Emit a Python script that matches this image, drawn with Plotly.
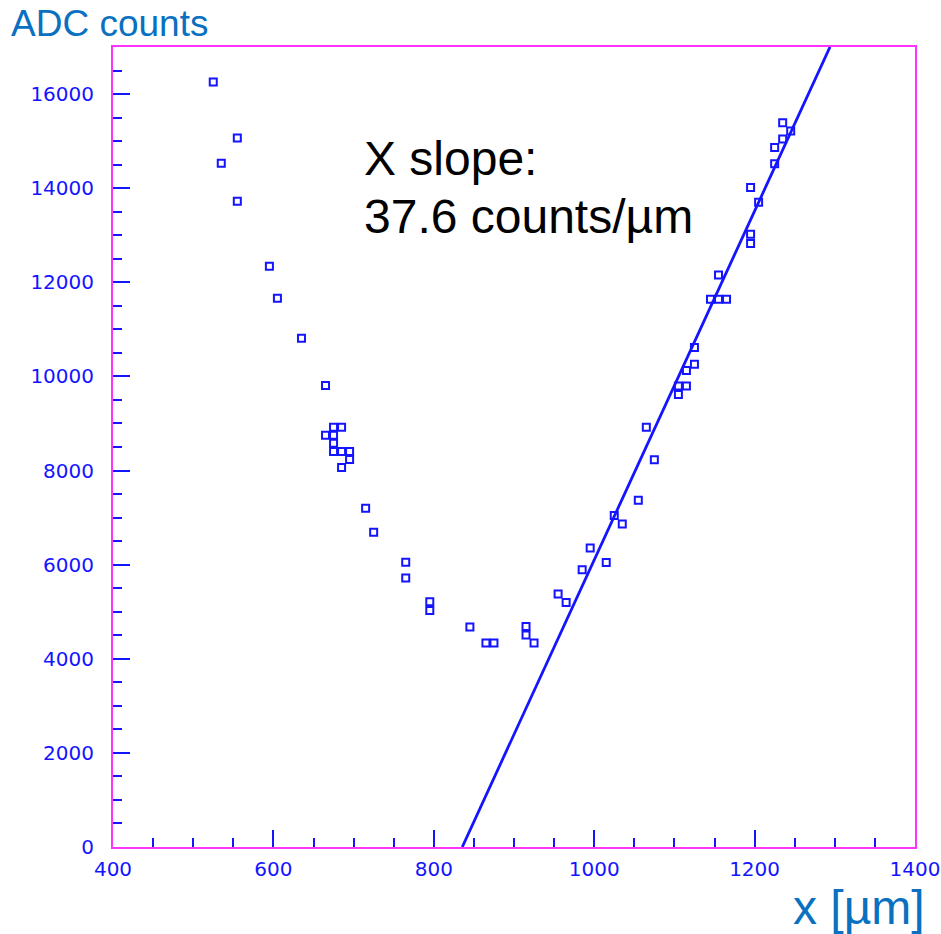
import plotly.graph_objects as go

# Measured points
x_um = [525, 535, 555, 555, 595, 605, 635, 665, 675, 685, 665, 675, 675, 675, 685, 695, 695, 685,
        715, 725, 765, 765, 795, 795, 845, 865, 875, 915, 915, 925, 955, 965, 985, 995, 1015, 1025,
        1035, 1055, 1065, 1075, 1105, 1105, 1115, 1115, 1125, 1125, 1145, 1155, 1165, 1155, 1195,
        1195, 1205, 1195, 1225, 1225, 1235, 1235, 1245]
adc = [16255, 14532, 15064, 13723, 12340, 11660, 10809, 9809, 8922, 8922, 8751, 8751, 8581, 8404,
       8404, 8404, 8234, 8064, 7198, 6687, 6049, 5717, 5213, 5028, 4674, 4334, 4334, 4688, 4504,
       4334, 5376, 5198, 5894, 6355, 6043, 7043, 6865, 7369, 8922, 8227, 9617, 9794, 9794, 10128,
       10256, 10617, 11638, 11638, 11638, 12156, 12823, 13021, 13702, 14015, 14517, 14866, 15043,
       15390, 15213]

# Fit line as drawn (end points)
fit_line_x = [835.5, 1294]
fit_line_y = [0, 17000]
slope_label = "37.6"      # counts / um, as printed

x_range = [400, 1400]
y_range = [0, 17000]
x_ticks = [400, 600, 800, 1000, 1200, 1400]
y_ticks = [0, 2000, 4000, 6000, 8000, 10000, 12000, 14000, 16000]

BLUE = "#1414ff"
MAG = "#ff33ff"
TITLE = "#0a70c0"

fig = go.Figure()
fig.add_trace(go.Scatter(x=x_um, y=adc, mode="markers",
                         marker=dict(symbol="square-open", size=7, color=BLUE,
                                     line=dict(width=2, color=BLUE)),
                         showlegend=False, cliponaxis=False))
fig.add_trace(go.Scatter(x=fit_line_x, y=fit_line_y, mode="lines",
                         line=dict(color=BLUE, width=2.8), showlegend=False))

axis_common = dict(showgrid=False, zeroline=False, showline=True, linecolor=MAG, linewidth=2,
                   mirror=True, ticks="inside", tickcolor=BLUE, tickwidth=2, ticklen=17,
                   automargin=False,
                   tickfont=dict(family="DejaVu Sans", size=20, color=BLUE))

fig.update_xaxes(range=x_range, tickvals=x_ticks, ticktext=[str(v) for v in x_ticks],
                 minor=dict(dtick=50, ticks="inside", ticklen=9, tickcolor=BLUE, tickwidth=2),
                 ticklabelstandoff=3, **axis_common)
fig.update_yaxes(range=y_range, tickvals=y_ticks, ticktext=[str(v) for v in y_ticks],
                 minor=dict(dtick=500, ticks="inside", ticklen=9, tickcolor=BLUE, tickwidth=2),
                 ticklabelstandoff=13, **axis_common)

fig.update_layout(width=941, height=934, margin=dict(l=113, r=26, t=47, b=87, autoexpand=False),
                  plot_bgcolor="white", paper_bgcolor="white",
                  font=dict(family="Liberation Sans, Arial"))

fig.add_annotation(xref="paper", yref="paper", x=(9 - 113) / 802, y=(847 - 1) / 800,
                   xanchor="left", yanchor="top", text="ADC counts", showarrow=False,
                   font=dict(size=37, color=TITLE))
fig.add_annotation(xref="paper", yref="paper", x=(927 - 113) / 802, y=(847 - 936) / 800,
                   xanchor="right", yanchor="bottom", text="x [µm]", showarrow=False,
                   font=dict(size=48, color=TITLE))
slope_lines = ["X slope:", f"{slope_label} counts/µm"]
for i, line_txt in enumerate(slope_lines):
    fig.add_annotation(xref="paper", yref="paper", x=(362 - 113) / 802,
                       y=(847 - (130 + 58 * i)) / 800,
                       xanchor="left", yanchor="top", align="left",
                       text=line_txt, showarrow=False,
                       font=dict(size=48, color="black"))

fig.write_html("out.html")
